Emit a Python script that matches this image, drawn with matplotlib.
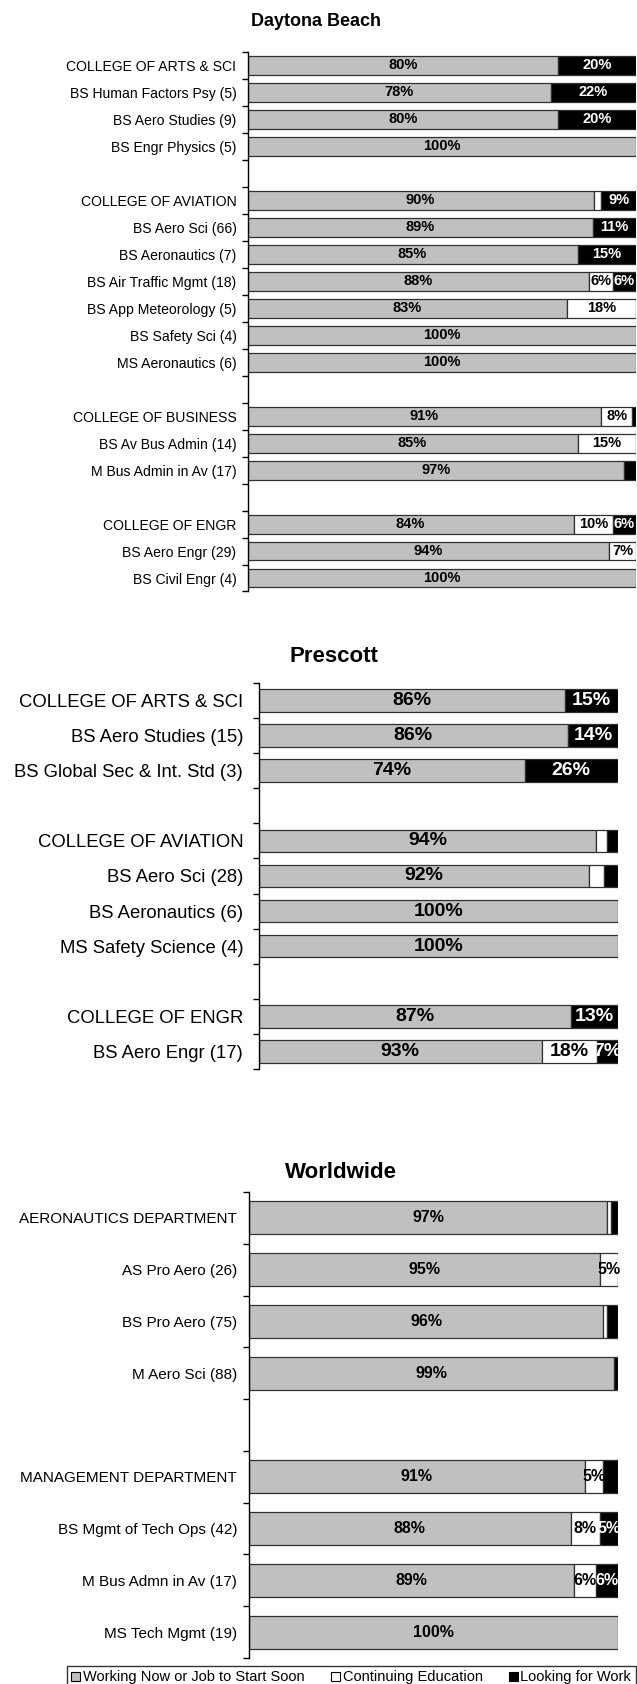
import matplotlib
matplotlib.use("Agg")
import matplotlib.pyplot as plt
import numpy as np
from matplotlib.patches import Patch

# ---- data ----
series_names = ["Working Now or Job to Start Soon", "Continuing Education", "Looking for Work"]

daytona_labels = [
    "COLLEGE OF ARTS & SCI", "BS Human Factors Psy (5)", "BS Aero Studies (9)",
    "BS Engr Physics (5)", "",
    "COLLEGE OF AVIATION", "BS Aero Sci (66)", "BS Aeronautics (7)",
    "BS Air Traffic Mgmt (18)", "BS App Meteorology (5)", "BS Safety Sci (4)",
    "MS Aeronautics (6)", "",
    "COLLEGE OF BUSINESS", "BS Av Bus Admin (14)", "M Bus Admin in Av (17)", "",
    "COLLEGE OF ENGR", "BS Aero Engr (29)", "BS Civil Engr (4)",
]
daytona_working = [80, 78, 80, 100, 0, 90, 89, 85, 88, 83, 100, 100, 0, 91, 85, 97, 0, 84, 94, 100]
daytona_continuing = [0, 0, 0, 0, 0, 2, 0, 0, 6, 18, 0, 0, 0, 8, 15, 0, 0, 10, 7, 0]
daytona_looking = [20, 22, 20, 0, 0, 9, 11, 15, 6, 0, 0, 0, 0, 1, 0, 3, 0, 6, 0, 0]

prescott_labels = [
    "COLLEGE OF ARTS & SCI", "BS Aero Studies (15)", "BS Global Sec & Int. Std (3)", "",
    "COLLEGE OF AVIATION", "BS Aero Sci (28)", "BS Aeronautics (6)",
    "MS Safety Science (4)", "",
    "COLLEGE OF ENGR", "BS Aero Engr (17)",
]
prescott_working = [86, 86, 74, 0, 94, 92, 100, 100, 0, 87, 93]
prescott_continuing = [0, 0, 0, 0, 3, 4, 0, 0, 0, 0, 18]
prescott_looking = [15, 14, 26, 0, 3, 4, 0, 0, 0, 13, 7]

worldwide_labels = [
    "AERONAUTICS DEPARTMENT", "AS Pro Aero (26)", "BS Pro Aero (75)", "M Aero Sci (88)", "",
    "MANAGEMENT DEPARTMENT", "BS Mgmt of Tech Ops (42)", "M Bus Admn in Av (17)",
    "MS Tech Mgmt (19)",
]
worldwide_working = [97, 95, 96, 99, 0, 91, 88, 89, 100]
worldwide_continuing = [1, 5, 1, 0, 0, 5, 8, 6, 0]
worldwide_looking = [2, 0, 3, 1, 0, 4, 5, 6, 0]

# ---- style ----
GRAY = "#C0C0C0"
EDGE = "#303030"
FONT = ["Liberation Sans", "DejaVu Sans"]

W, H = 637, 1684
fig = plt.figure(figsize=(W / 100, H / 100), dpi=100)


def px_axes(left, right, top, bottom):
    return fig.add_axes([left / W, 1 - bottom / H, (right - left) / W, (bottom - top) / H])


def draw_panel(ax, labels, working, continuing, looking, bar_h,
               tick_size, tick_pad, val_size, clip=True):
    n = len(labels)
    y = np.arange(n)
    data = np.array([working, continuing, looking], dtype=float)
    tot = data.sum(axis=0)
    tot[tot == 0] = 1
    norm = data / tot * 100  # 100% stacked, like the original sheet

    colors = [GRAY, "white", "black"]
    text_colors = ["black", "black", "white"]
    left = np.zeros(n)
    for k in range(3):
        idx = np.nonzero(data[k])[0]
        ax.barh(y[idx], norm[k][idx], left=left[idx], height=bar_h,
                color=colors[k], edgecolor=EDGE, linewidth=0.9)
        for i in idx:
            if data[k][i] >= 5:
                ax.text(left[i] + norm[k][i] / 2, i, f"{int(data[k][i])}%",
                        ha="center", va="center", color=text_colors[k],
                        family=FONT, fontsize=val_size, fontweight="bold",
                        clip_on=clip)
        left = left + norm[k]

    ax.set_xlim(0, 100)
    ax.set_ylim(n - 0.5, -0.5)
    ax.set_xticks([])
    ax.set_yticks(np.arange(n + 1) - 0.5)
    ax.set_yticklabels([])
    ax.set_yticks(y, minor=True)
    ax.set_yticklabels(labels, minor=True, family=FONT, fontsize=tick_size)
    ax.tick_params(axis="y", which="major", length=4, width=1, direction="out", color="black")
    ax.tick_params(axis="y", which="minor", length=0, pad=tick_pad)
    for side in ["top", "right", "bottom"]:
        ax.spines[side].set_visible(False)
    ax.spines["left"].set_linewidth(1)
    ax.spines["left"].set_color("black")


ax1 = px_axes(247.5, 636, 52, 591.5)
draw_panel(ax1, daytona_labels, daytona_working, daytona_continuing, daytona_looking,
           0.70, 10.1, 8, 10.5)
fig.text(316 / W, 1 - 21.5 / H, "Daytona Beach", ha="center", va="center",
         family=FONT, fontsize=13, fontweight="bold")

ax2 = px_axes(258.5, 618, 683, 1069)
draw_panel(ax2, prescott_labels, prescott_working, prescott_continuing, prescott_looking,
           0.64, 13.3, 11, 14)
fig.text(334 / W, 1 - 657 / H, "Prescott", ha="center", va="center",
         family=FONT, fontsize=16, fontweight="bold")

ax3 = px_axes(249, 618, 1192, 1658)
draw_panel(ax3, worldwide_labels, worldwide_working, worldwide_continuing, worldwide_looking,
           0.64, 11, 8.5, 11.5, clip=False)
fig.text(341 / W, 1 - 1173 / H, "Worldwide", ha="center", va="center",
         family=FONT, fontsize=16, fontweight="bold")

handles = [Patch(facecolor=c, edgecolor="black", linewidth=0.8) for c in [GRAY, "white", "black"]]
leg = fig.legend(handles, series_names, loc="upper left", bbox_to_anchor=(67 / W, 1 - 1666 / H),
                 ncol=3, frameon=True, fancybox=False, borderpad=0.3, borderaxespad=0,
                 handlelength=0.6, handleheight=0.6, handletextpad=0.2, columnspacing=1.8,
                 prop={"family": FONT, "size": 10.5})
leg.get_frame().set_edgecolor("black")
leg.get_frame().set_linewidth(1)

fig.savefig("out.png", dpi=100)
